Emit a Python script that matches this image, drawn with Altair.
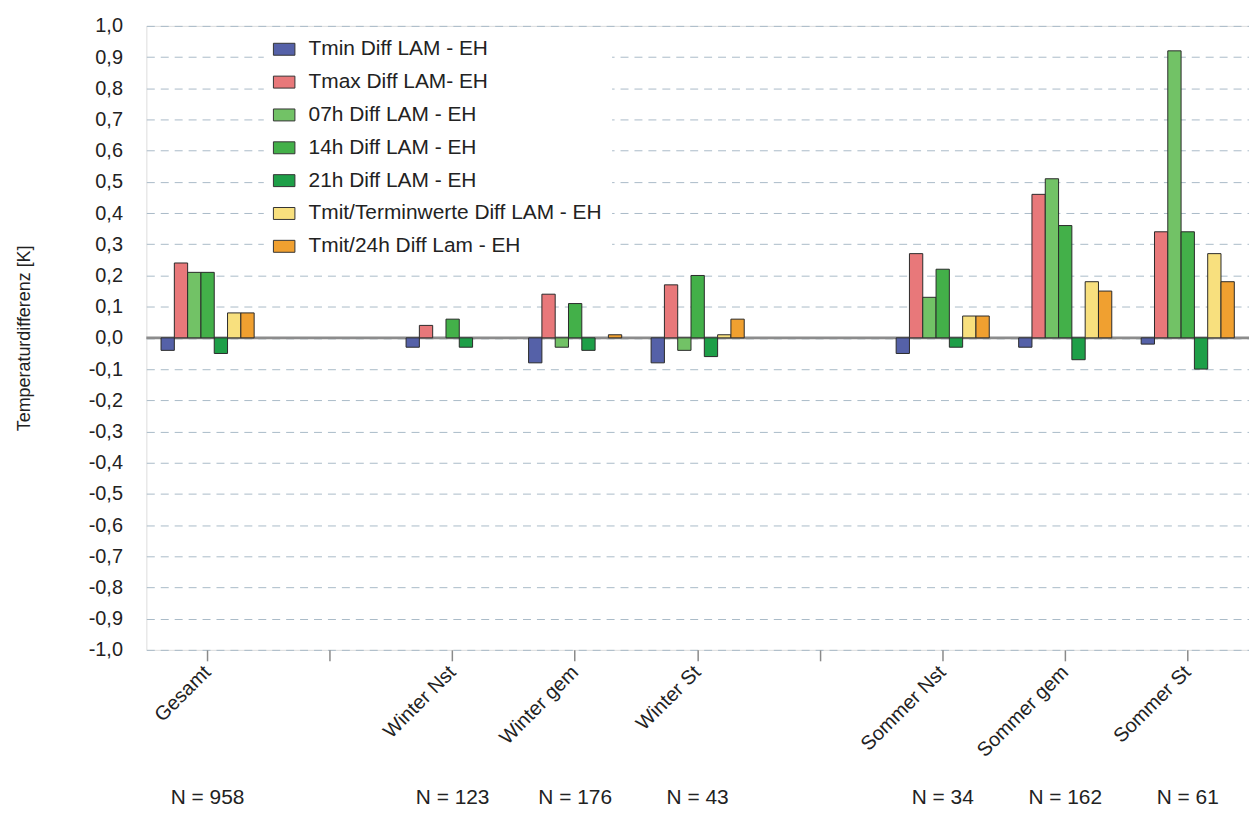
import altair as alt
import pandas as pd

# ---- data ----
slots = ["Gesamt", "_gap1", "Winter Nst", "Winter gem", "Winter St",
         "_gap2", "Sommer Nst", "Sommer gem", "Sommer St"]
categories = ["Gesamt", "Winter Nst", "Winter gem", "Winter St",
              "Sommer Nst", "Sommer gem", "Sommer St"]
n_labels = ["N = 958", "N = 123", "N = 176", "N = 43", "N = 34", "N = 162", "N = 61"]

series = ["Tmin Diff LAM - EH", "Tmax Diff LAM- EH", "07h Diff LAM - EH",
          "14h Diff LAM - EH", "21h Diff LAM - EH",
          "Tmit/Terminwerte Diff LAM - EH", "Tmit/24h Diff Lam - EH"]
colors = ["#5561a8", "#e8787a", "#72c266", "#43b049", "#1e9f48", "#f8e07e", "#f0a030"]

tmin = [-0.04, -0.03, -0.08, -0.08, -0.05, -0.03, -0.02]
tmax = [0.24, 0.04, 0.14, 0.17, 0.27, 0.46, 0.34]
h07 = [0.21, 0.0, -0.03, -0.04, 0.13, 0.51, 0.92]
h14 = [0.21, 0.06, 0.11, 0.20, 0.22, 0.36, 0.34]
h21 = [-0.05, -0.03, -0.04, -0.06, -0.03, -0.07, -0.10]
tmit_term = [0.08, 0.0, 0.0, 0.01, 0.07, 0.18, 0.27]
tmit_24h = [0.08, 0.0, 0.01, 0.06, 0.07, 0.15, 0.18]

y_ticks = [round(i / 10, 1) for i in range(-10, 11)]

# ---- tables ----
rows = []
for s, vals in zip(series, [tmin, tmax, h07, h14, h21, tmit_term, tmit_24h]):
    for c, v in zip(categories, vals):
        if v != 0:
            rows.append({"cat": c, "series": s, "value": v})
df = pd.DataFrame(rows)
df_n = pd.DataFrame({"cat": categories, "n": n_labels})
df_zero = pd.DataFrame({"value": [0.0]})

FONT = "Liberation Sans"
TXT = "#222222"

x_enc = alt.X(
    "cat:N",
    sort=slots,
    scale=alt.Scale(domain=slots, paddingInner=0.24, paddingOuter=0.12),
    axis=alt.Axis(
        title=None, labelAngle=-45, labelAlign="right", labelBaseline="middle",
        labelExpr="indexof(datum.label, '_gap') == 0 ? '' : datum.label",
        ticks=True, tickSize=11, tickColor="#8a8a8a", tickWidth=1.5,
        domain=False, grid=False, labelFontSize=20, labelFont=FONT,
        labelColor=TXT, labelPadding=8, labelOverlap=False,
    ),
)

y_enc = alt.Y(
    "value:Q",
    scale=alt.Scale(domain=[-1, 1], nice=False, zero=False),
    axis=alt.Axis(
        values=y_ticks,
        labelExpr="replace(replace(format(datum.value, '.1f'), '.', ','), '\u2212', '-')",
        title="Temperaturdifferenz [K]", titleFontSize=18, titleFont=FONT,
        titleFontWeight="normal", titleColor=TXT, titlePadding=55,
        grid=True, gridDash=[8, 6], gridColor="#a9bac8", gridWidth=1,
        domain=False, ticks=False, labelFontSize=20, labelFont=FONT,
        labelColor=TXT, labelPadding=24, labelOverlap=False,
    ),
)

zero_rule = alt.Chart(df_zero).mark_rule(color="#8c8c8c", strokeWidth=3).encode(
    y=y_enc
)

bars = alt.Chart(df).mark_bar(stroke="#2a2a2a", strokeWidth=1, opacity=1).encode(
    x=x_enc,
    xOffset=alt.XOffset("series:N", sort=series,
                        scale=alt.Scale(domain=series, paddingInner=0, paddingOuter=0)),
    y=y_enc,
    color=alt.Color(
        "series:N", sort=series,
        scale=alt.Scale(domain=series, range=colors),
        legend=alt.Legend(
            title=None, orient="none", legendX=118, legendY=3,
            fillColor="white", padding=10,
            symbolType="M-1.8,-1H1.8V1H-1.8Z", symbolSize=144,
            symbolStrokeColor="#333333", symbolStrokeWidth=1, symbolOpacity=1,
            labelFontSize=21, labelFont=FONT, labelColor=TXT,
            labelOffset=14, rowPadding=11, labelLimit=0,
        ),
    ),
)

n_text = alt.Chart(df_n).mark_text(
    fontSize=21, font=FONT, color=TXT, baseline="middle", align="center"
).encode(
    x=x_enc,
    y=alt.value(776),
    text="n:N",
)

chart = (
    alt.layer(zero_rule, bars, n_text)
    .properties(
        width=1108, height=627,
        padding={"left": 139, "top": 16, "right": 0, "bottom": 170},
        autosize=alt.AutoSizeParams(type="none"),
    )
    .configure_view(stroke="#7f7f7f", strokeWidth=3)
    .configure(background="white")
)

chart.save("out.html", embed_options={"renderer": "svg", "actions": False})
